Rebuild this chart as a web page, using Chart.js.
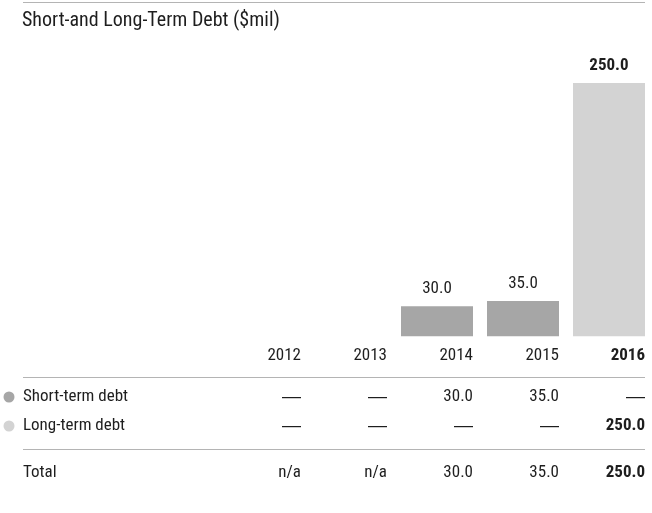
<!DOCTYPE html>
<html><head><meta charset="utf-8">
<script src="https://cdn.jsdelivr.net/npm/chart.js@4"></script>
<style>html,body{margin:0;padding:0;background:#fff}#wrap{position:relative;width:652px;height:513px}</style>
</head><body><div id="wrap"><canvas id="c" width="652" height="513"></canvas></div>
<script>
const title = 'Short-and Long-Term Debt ($mil)';
const years = ['2012', '2013', '2014', '2015', '2016'];
const shortTerm = [null, null, 30.0, 35.0, null];
const longTerm = [null, null, null, null, 250.0];
const seriesNames = ['Short-term debt', 'Long-term debt'];
const totalLabel = 'Total';

const FONT = "'Roboto Condensed', 'Liberation Sans', sans-serif";
const DASH_FONT = "'Liberation Sans', sans-serif";
const C_SHORT = '#a6a6a6', C_LONG = '#d3d3d3', TXT = '#1e1e1e', RULE = '#b4b4b4';
const BOLD_IDX = 4;
const FS = 17;

function fmt(v){ return v == null ? '\u2014' : v.toFixed(1); }

const tablePlugin = {
  id: 'tablePlugin',
  afterDraw(chart){
    const ctx = chart.ctx, xs = chart.scales.x, ys = chart.scales.y;
    const meta = chart.getDatasetMeta(0);
    const half = meta.data[0] ? meta.data[0].width / 2 : 36;
    ctx.save();
    ctx.strokeStyle = RULE; ctx.lineWidth = 1;
    const right = xs.getPixelForValue(years.length - 1) + half;
    const hl = y => { ctx.beginPath(); ctx.moveTo(23, y + 0.5); ctx.lineTo(right, y + 0.5); ctx.stroke(); };
    hl(2); hl(377); hl(449);
    // title
    ctx.fillStyle = TXT; ctx.textBaseline = 'middle'; ctx.textAlign = 'left';
    ctx.font = `20px ${FONT}`;
    ctx.fillText(title, 22, 21);
    // value labels above bars
    ctx.textAlign = 'center'; ctx.textBaseline = 'alphabetic';
    years.forEach((y, i) => {
      const tot = (shortTerm[i] || 0) + (longTerm[i] || 0);
      if (!tot) return;
      ctx.font = (i === BOLD_IDX ? 'bold ' : '') + `${FS}px ${FONT}`;
      ctx.fillText(fmt(tot), xs.getPixelForValue(i), ys.getPixelForValue(tot) - 13);
    });
    // table rows
    const rows = [
      {name: seriesNames[0], vals: shortTerm, color: C_SHORT, y: 397},
      {name: seriesNames[1], vals: longTerm, color: C_LONG, y: 426},
      {name: totalLabel, vals: years.map((_, i) => (shortTerm[i] == null && longTerm[i] == null) ? 'n/a' : (shortTerm[i] || 0) + (longTerm[i] || 0)), color: null, y: 473}
    ];
    ctx.textBaseline = 'middle';
    rows.forEach(r => {
      if (r.color){ ctx.fillStyle = r.color; ctx.beginPath(); ctx.arc(9, r.y, 5.5, 0, Math.PI*2); ctx.fill(); }
      ctx.fillStyle = TXT; ctx.textAlign = 'left'; ctx.font = `${FS}px ${FONT}`;
      ctx.fillText(r.name, 23, r.y);
      ctx.textAlign = 'right';
      r.vals.forEach((v, i) => {
        const x = xs.getPixelForValue(i) + half;
        if (v == null){
          ctx.font = `19px ${DASH_FONT}`;
          ctx.fillText('\u2014', x, r.y);
          return;
        }
        ctx.font = (i === BOLD_IDX ? 'bold ' : '') + `${FS}px ${FONT}`;
        ctx.fillText(typeof v === 'string' ? v : fmt(v), x, r.y);
      });
    });
    ctx.restore();
  }
};

new Chart(document.getElementById('c'), {
  type: 'bar',
  data: {
    labels: years,
    datasets: [
      {label: seriesNames[0], data: shortTerm, backgroundColor: C_SHORT, borderWidth: 0},
      {label: seriesNames[1], data: longTerm, backgroundColor: C_LONG, borderWidth: 0}
    ]
  },
  options: {
    responsive: false, animation: false, devicePixelRatio: 1,
    layout: {padding: {left: 222, right: 0, top: 83, bottom: 138}},
    plugins: {legend: {display: false}, tooltip: {enabled: false}, title: {display: false}},
    datasets: {bar: {barPercentage: 72/86, categoryPercentage: 1}},
    scales: {
      x: {
        stacked: true,
        grid: {display: false, drawTicks: false}, border: {display: false},
        ticks: {
          align: 'end', labelOffset: 36, padding: 9, color: TXT,
          font: c => ({family: FONT, size: FS, weight: c.index === BOLD_IDX ? 'bold' : 'normal'})
        }
      },
      y: {stacked: true, display: false, min: 0, max: 250}
    }
  },
  plugins: [tablePlugin]
});
</script></body></html>
